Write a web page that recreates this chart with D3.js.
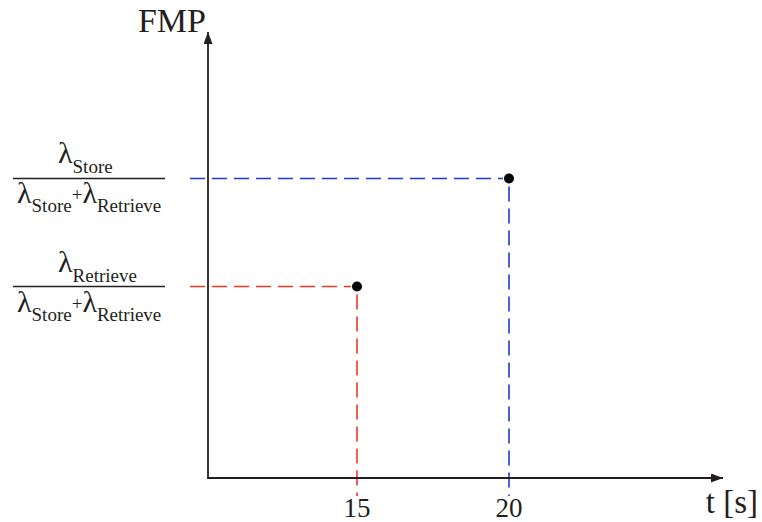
<!DOCTYPE html>
<html>
<head>
<meta charset="utf-8">
<script src="https://cdn.jsdelivr.net/npm/d3@7"></script>
<style>
  html, body { margin: 0; padding: 0; background: #fff; }
  svg { display: block; }
  text { font-family: "Liberation Serif", "DejaVu Serif", serif; fill: #231f20; }
</style>
</head>
<body>
<svg id="chart" width="762" height="522"></svg>
<script>
// Time (s) at which each state is reached
const times = [15, 20];
// Fraction of time in each state: Retrieve, Store
const fmpValues = [0.39, 0.61];
const seriesNames = ["Retrieve", "Store"];
const seriesColors = ["#ee3a22", "#1b3bd4"];
const xTickLabels = ["15", "20"];
const xAxisLabel = "t [s]";
const yAxisLabel = "FMP";

const svg = d3.select("#chart");
const ink = "#231f20";

const origin = { x: 208, y: 478 };
const x = d3.scaleLinear().domain([15, 20]).range([357, 509]);
const y = d3.scaleLinear().domain([0, 1]).range([origin.y, -13]);

svg.append("defs").append("marker")
  .attr("id", "arrow")
  .attr("viewBox", "0 0 12 9")
  .attr("refX", 12).attr("refY", 4.5)
  .attr("markerWidth", 12).attr("markerHeight", 9)
  .attr("markerUnits", "userSpaceOnUse")
  .attr("orient", "auto")
  .append("path").attr("d", "M0,0 L12,4.5 L0,9 Z").attr("fill", ink);

// Guide lines from each point to the axes
const points = times.map((t, i) => ({ t, v: fmpValues[i], name: seriesNames[i], color: seriesColors[i] }));
const guides = svg.append("g");
points.forEach(p => {
  guides.append("line")
    .attr("x1", 190).attr("x2", x(p.t) - 6)
    .attr("y1", y(p.v)).attr("y2", y(p.v))
    .attr("stroke", p.color).attr("stroke-width", 1.6)
    .attr("stroke-dasharray", "15,7");
  guides.append("line")
    .attr("x1", x(p.t)).attr("x2", x(p.t))
    .attr("y1", y(p.v) + 8).attr("y2", 496)
    .attr("stroke", p.color).attr("stroke-width", 1.6)
    .attr("stroke-dasharray", "15,7");
});

// Axes with arrowheads
svg.append("line")
  .attr("x1", origin.x).attr("y1", origin.y)
  .attr("x2", origin.x).attr("y2", 32)
  .attr("stroke", ink).attr("stroke-width", 1.8)
  .attr("marker-end", "url(#arrow)");
svg.append("line")
  .attr("x1", origin.x - 0.9).attr("y1", origin.y)
  .attr("x2", 723).attr("y2", origin.y)
  .attr("stroke", ink).attr("stroke-width", 1.8)
  .attr("marker-end", "url(#arrow)");

// Points
svg.append("g").selectAll("circle").data(points).join("circle")
  .attr("cx", d => x(d.t)).attr("cy", d => y(d.v))
  .attr("r", 5).attr("fill", "#000");

// x tick labels
svg.append("g").selectAll("text").data(times).join("text")
  .attr("x", d => x(d)).attr("y", 517)
  .attr("text-anchor", "middle")
  .attr("font-size", 27)
  .text((d, i) => xTickLabels[i]);

// Axis titles
svg.append("text").attr("x", 758).attr("y", 513)
  .attr("text-anchor", "end").attr("font-size", 33).text(xAxisLabel);
svg.append("text").attr("x", 206).attr("y", 32)
  .attr("text-anchor", "end").attr("font-size", 34).text(yAxisLabel);

// y tick labels: λ_name / (λ_Store + λ_Retrieve), laid out piece by piece
function row(parent, pieces, leftX, baseY) {
  const g = parent.append("g");
  let pos = leftX;
  pieces.forEach(([str, size, dy]) => {
    const t = g.append("text")
      .attr("x", pos).attr("y", baseY + dy)
      .attr("font-size", size)
      .text(str);
    pos += t.node().getComputedTextLength();
  });
}
points.forEach(p => {
  const yy = y(p.v);
  const g = svg.append("g");
  g.append("line")
    .attr("x1", 13).attr("x2", 165).attr("y1", yy).attr("y2", yy)
    .attr("stroke", ink).attr("stroke-width", 1.5);
  row(g, [["λ", 30, 0], [p.name, 19, 10]], 58, yy - 15);
  row(g, [["λ", 30, 0], ["Store", 19, 9], ["+", 19, -2], ["λ", 30, 0], ["Retrieve", 19, 9]], 17, yy + 25);
});
</script>
</body>
</html>
